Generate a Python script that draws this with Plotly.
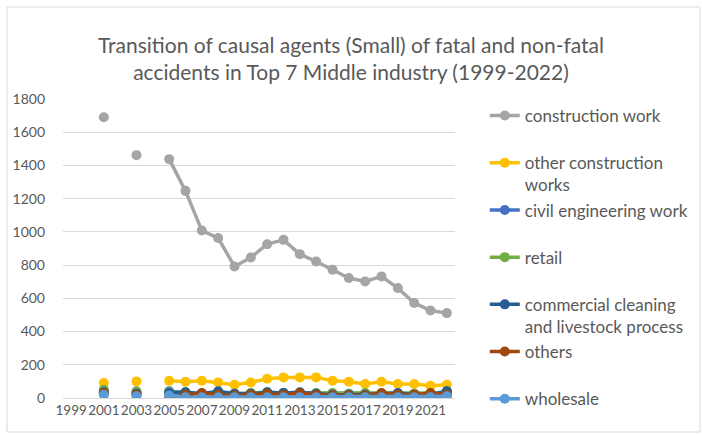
import plotly.graph_objects as go

years = [str(y) for y in range(1999, 2023)]
tick_years = [str(y) for y in range(1999, 2023, 2)]

series_names = [
    "construction work<br> ",
    "other construction<br>works",
    "civil engineering work<br> ",
    "retail<br> ",
    "commercial cleaning<br>and livestock process",
    "others<br> ",
    "wholesale<br> ",
]
N = None
construction_work = [N, N, 1690, N, 1462, N, 1438, 1247, 1008, 963, 792, 846, 926, 952, 866, 822, 772, 722, 702, 732, 662, 572, 527, 511]
other_construction = [N, N, 90, N, 100, N, 104, 98, 104, 94, 80, 94, 116, 124, 124, 124, 104, 98, 84, 98, 84, 84, 74, 80]
civil_engineering = [N, N, 40, N, 30, N, 40, 30, 25, 30, 25, 25, 30, 30, 30, 25, 25, 25, 25, 25, 25, 25, 25, 40]
retail = [N, N, 50, N, 40, N, 35, 35, 25, 30, 25, 30, 35, 30, 30, 30, 30, 25, 30, 25, 25, 25, 25, 30]
commercial_cleaning = [N, N, 35, N, 25, N, 30, 35, 25, 40, 25, 25, 35, 30, 35, 25, 20, 20, 20, 25, 30, 20, 20, 40]
others = [N, N, 30, N, 20, N, 5, 20, 30, 20, 15, 20, 25, 20, 30, 20, 15, 15, 15, 30, 20, 20, 30, 20]
wholesale = [N, N, 20, N, 10, N, 15, 5, 5, 5, 5, 5, 5, 5, 5, 5, 5, 5, 5, 5, 5, 5, 5, 10]

all_series = [construction_work, other_construction, civil_engineering, retail,
              commercial_cleaning, others, wholesale]
colors = ["#A5A5A5", "#FFC000", "#4472C4", "#70AD47", "#255E91", "#9E480E", "#5B9BD5"]

FONT = "Lato"
TXT = "#595959"

fig = go.Figure()
for name, vals, col in zip(series_names, all_series, colors):
    fig.add_trace(go.Scatter(
        x=years, y=vals, name=name, mode="lines+markers",
        line=dict(color=col, width=3.5),
        marker=dict(color=col, size=10),
        connectgaps=False,
        legendgroup=name,
    ))

fig.update_layout(
    width=702, height=435,
    paper_bgcolor="white", plot_bgcolor="white",
    margin=dict(l=63, r=247, t=99, b=37, autoexpand=False),
    title=dict(
        text="Transition of causal agents (Small) of fatal and non-fatal<br>accidents in Top 7 Middle industry (1999-2022)",
        x=0.5, xref="container", xanchor="center",
        y=1 - 53 / 435, yref="container", yanchor="middle",
        font=dict(family=FONT, size=21, color=TXT),
    ),
    xaxis=dict(
        type="category", categoryorder="array", categoryarray=years,
        range=[-0.5, 23.5],
        tickmode="array", tickvals=tick_years, ticktext=tick_years,
        tickangle=0,
        tickfont=dict(family=FONT, size=13.5, color=TXT),
        showgrid=False, showline=True, linecolor="#D9D9D9", linewidth=1,
        ticks="", zeroline=False,
    ),
    yaxis=dict(
        range=[0, 1800], tickmode="linear", tick0=0, dtick=200,
        tickfont=dict(family=FONT, size=14, color=TXT),
        ticklabelstandoff=17,
        showgrid=True, gridcolor="#D9D9D9", gridwidth=1,
        zeroline=False, showline=False, ticks="",
    ),
    legend=dict(
        x=1.076, xanchor="left", y=1 - 98 / 435, yanchor="top", yref="container",
        maxheight=420,
        font=dict(family=FONT, size=17, color=TXT),
        valign="top", tracegroupgap=0, itemwidth=30,
        bgcolor="rgba(0,0,0,0)",
    ),
    shapes=[dict(
        type="rect", xref="paper", yref="paper",
        x0=-56 / 392, x1=(700 - 63) / 392, y0=-34 / 299, y1=(398 - 7) / 299,
        line=dict(color="#D9D9D9", width=1), fillcolor="rgba(0,0,0,0)", layer="below",
    )],
)

fig.write_html(
    "out.html",
    config={"displayModeBar": False},
    post_script="document.body.style.margin='0';document.body.style.overflow='hidden';",
)
